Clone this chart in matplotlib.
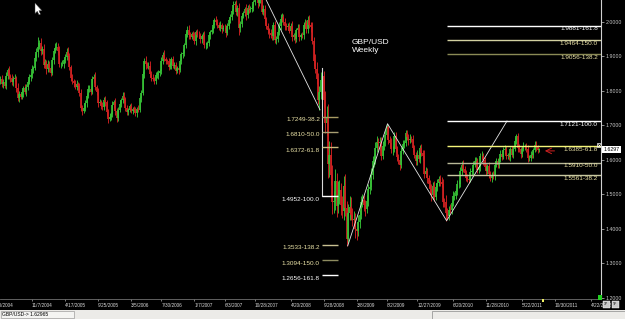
import numpy as np
import pandas as pd
import matplotlib
matplotlib.use('Agg')
import matplotlib.pyplot as plt
import matplotlib.dates as mdates
import matplotlib.transforms as mtrans
from matplotlib.patches import Rectangle, Polygon

plt.rcParams['font.family'] = ['Liberation Sans', 'DejaVu Sans']

# ---------------- data (weekly GBP/USD) ----------------
START = '2004-06-06'
first_open = 1.828
closes = [
    1.834, 1.820, 1.826, 1.815, 1.844, 1.860, 1.842, 1.838, 1.825, 1.835,
    1.838, 1.808, 1.778, 1.790, 1.783, 1.795, 1.808, 1.796, 1.812, 1.826,
    1.840, 1.845, 1.862, 1.867, 1.896, 1.911, 1.928, 1.938, 1.915, 1.920,
    1.875, 1.882, 1.862, 1.876, 1.865, 1.852, 1.889, 1.916, 1.924, 1.928,
    1.916, 1.877, 1.878, 1.878, 1.888, 1.897, 1.911, 1.900, 1.868, 1.837,
    1.827, 1.822, 1.812, 1.818, 1.815, 1.793, 1.750, 1.742, 1.750, 1.765,
    1.784, 1.804, 1.806, 1.797, 1.833, 1.840, 1.810, 1.797, 1.765, 1.767,
    1.756, 1.752, 1.773, 1.766, 1.737, 1.718, 1.724, 1.733, 1.758, 1.766,
    1.740, 1.721, 1.745, 1.762, 1.772, 1.785, 1.775, 1.749, 1.739, 1.745,
    1.755, 1.742, 1.747, 1.745, 1.736, 1.748, 1.745, 1.778, 1.793, 1.847,
    1.885, 1.876, 1.872, 1.873, 1.849, 1.838, 1.834, 1.828, 1.845, 1.845,
    1.851, 1.856, 1.887, 1.904, 1.891, 1.887, 1.886, 1.869, 1.875, 1.891,
    1.873, 1.874, 1.857, 1.867, 1.859, 1.886, 1.905, 1.910, 1.932, 1.965,
    1.977, 1.962, 1.957, 1.963, 1.958, 1.945, 1.970, 1.962, 1.960, 1.949,
    1.958, 1.960, 1.932, 1.932, 1.937, 1.961, 1.970, 1.976, 1.989, 2.006,
    1.999, 1.991, 1.983, 1.989, 1.979, 1.983, 1.982, 1.968, 1.988, 2.006,
    2.013, 2.030, 2.048, 2.050, 2.029, 2.039, 1.981, 1.993, 2.017, 2.025,
    2.036, 2.018, 2.040, 2.035, 2.038, 2.041, 2.056, 2.081, 2.092, 2.055,
    2.067, 2.068, 2.029, 2.036, 2.007, 1.987, 1.975, 1.966, 1.962, 1.959,
    1.989, 1.947, 1.950, 1.969, 1.988, 2.007, 2.013, 2.000, 1.988, 1.985,
    1.988, 1.974, 1.988, 1.955, 1.960, 1.949, 1.975, 1.983, 1.956, 1.961,
    1.960, 1.991, 1.995, 1.978, 2.005, 1.990, 1.984, 1.944, 1.887, 1.862,
    1.835, 1.772, 1.796, 1.830, 1.842, 1.774, 1.707, 1.725, 1.588, 1.615,
    1.556, 1.478, 1.480, 1.537, 1.465, 1.498, 1.512, 1.469, 1.451, 1.523,
    1.461, 1.370, 1.446, 1.464, 1.440, 1.425, 1.427, 1.398, 1.393, 1.418,
    1.440, 1.478, 1.482, 1.470, 1.458, 1.480, 1.514, 1.521, 1.557, 1.595,
    1.600, 1.635, 1.652, 1.647, 1.650, 1.612, 1.641, 1.650, 1.672, 1.696,
    1.658, 1.649, 1.630, 1.632, 1.668, 1.630, 1.608, 1.598, 1.584, 1.626,
    1.645, 1.648, 1.676, 1.667, 1.657, 1.661, 1.660, 1.633, 1.614, 1.596,
    1.614, 1.602, 1.633, 1.620, 1.612, 1.558, 1.567, 1.546, 1.529, 1.514,
    1.497, 1.524, 1.491, 1.522, 1.533, 1.544, 1.535, 1.530, 1.478, 1.477,
    1.445, 1.437, 1.455, 1.454, 1.474, 1.494, 1.494, 1.508, 1.529, 1.530,
    1.568, 1.586, 1.574, 1.561, 1.547, 1.545, 1.542, 1.564, 1.566, 1.586,
    1.596, 1.596, 1.570, 1.579, 1.610, 1.610, 1.598, 1.578, 1.566, 1.581,
    1.558, 1.546, 1.557, 1.553, 1.586, 1.595, 1.585, 1.601, 1.617, 1.609,
    1.627, 1.632, 1.612, 1.613, 1.607, 1.632, 1.615, 1.631, 1.655, 1.668,
    1.635, 1.630, 1.616, 1.632, 1.639, 1.640, 1.632, 1.605, 1.605, 1.614,
    1.613, 1.628, 1.644, 1.636, 1.627, 1.6297,
]
# wick lengths above / below the candle body, in pips
upper_wick = [
    90, 120, 80, 150, 110, 70, 130, 60, 100, 80,
    110, 60, 140, 90, 70, 100, 50, 120, 80, 60,
    90, 70, 120, 60, 100, 130, 270, 80, 140, 90,
    150, 110, 70, 120, 90, 60, 100, 80, 130, 120,
    90, 140, 60, 110, 70, 90, 120, 150, 80, 60,
    100, 70, 90, 130, 80, 60, 110, 90, 140, 70,
    80, 120, 100, 60, 90, 80, 140, 70, 110, 90,
    60, 100, 80, 130, 70, 90, 100, 60, 120, 80,
    140, 90, 70, 100, 60, 110, 120, 80, 90, 60,
    70, 100, 60, 90, 80, 60, 110, 70, 90, 100,
    110, 150, 80, 90, 120, 70, 100, 60, 80, 110,
    90, 60, 100, 70, 130, 80, 60, 100, 90, 70,
    110, 80, 90, 60, 120, 70, 80, 100, 60, 90,
    110, 130, 80, 70, 100, 120, 60, 90, 110, 80,
    70, 110, 130, 80, 60, 90, 70, 100, 80, 60,
    110, 80, 90, 120, 60, 80, 100, 70, 90, 60,
    80, 70, 110, 90, 120, 100, 160, 80, 90, 70,
    60, 140, 80, 100, 70, 90, 80, 120, 241, 100,
    120, 90, 150, 110, 130, 80, 100, 70, 120, 90,
    110, 140, 80, 70, 100, 150, 120, 90, 110, 80,
    70, 120, 90, 130, 80, 100, 60, 110, 90, 70,
    100, 80, 120, 90, 110, 130, 90, 150, 120, 180,
    200, 150, 180, 250, 247, 150, 250, 300, 350, 400,
    350, 300, 280, 350, 250, 400, 300, 200, 250, 300,
    350, 200, 250, 300, 280, 200, 250, 180, 200, 220,
    150, 180, 200, 150, 120, 170, 150, 200, 180, 150,
    200, 150, 180, 120, 150, 160, 140, 110, 130, 83,
    40, 110, 150, 80, 120, 130, 100, 90, 140, 110,
    120, 90, 110, 100, 80, 130, 90, 120, 100, 80,
    130, 110, 90, 120, 80, 150, 110, 90, 100, 120,
    150, 120, 130, 100, 110, 90, 120, 150, 130, 100,
    200, 150, 120, 180, 100, 140, 110, 90, 130, 120,
    110, 100, 130, 90, 80, 110, 70, 120, 90, 100,
    130, 110, 90, 120, 100, 140, 80, 90, 110, 70,
    120, 90, 80, 100, 70, 110, 90, 80, 120, 100,
    90, 110, 80, 70, 100, 60, 90, 80, 110, 78,
    80, 100, 70, 90, 110, 60, 80, 100, 90, 120,
    80, 70, 100, 90, 60, 50,
]
lower_wick = [
    100, 80, 130, 60, 90, 110, 70, 120, 80, 100,
    70, 130, 90, 110, 60, 80, 120, 70, 100, 90,
    60, 110, 80, 100, 70, 90, 120, 60, 110, 80,
    100, 70, 140, 80, 110, 90, 60, 120, 80, 70,
    120, 80, 100, 60, 110, 70, 90, 120, 80, 100,
    70, 110, 60, 90, 120, 80, 100, 130, 70, 90,
    110, 60, 90, 100, 70, 120, 80, 90, 110, 60,
    100, 80, 70, 110, 90, 130, 60, 100, 80, 70,
    90, 120, 80, 60, 100, 70, 110, 80, 90, 100,
    80, 70, 100, 60, 90, 110, 70, 80, 100, 60,
    90, 120, 70, 80, 100, 110, 60, 90, 80, 70,
    100, 80, 70, 110, 60, 90, 100, 80, 70, 110,
    80, 90, 100, 70, 110, 60, 80, 90, 100, 70,
    90, 110, 70, 80, 100, 90, 120, 60, 80, 100,
    110, 80, 90, 120, 70, 80, 100, 60, 90, 70,
    80, 100, 70, 90, 110, 60, 80, 120, 70, 90,
    100, 80, 70, 110, 90, 120, 200, 100, 80, 70,
    90, 120, 80, 100, 70, 110, 90, 80, 100, 140,
    90, 120, 80, 110, 130, 90, 100, 120, 80, 110,
    130, 100, 120, 80, 90, 110, 70, 100, 120, 90,
    100, 80, 110, 120, 90, 100, 80, 70, 110, 90,
    80, 100, 90, 120, 110, 90, 130, 100, 150, 120,
    150, 120, 275, 200, 180, 200, 300, 350, 400, 380,
    300, 350, 320, 250, 300, 200, 250, 300, 200, 250,
    250, 197, 120, 200, 150, 180, 200, 250, 270, 150,
    160, 120, 150, 180, 200, 120, 150, 130, 100, 120,
    150, 130, 120, 200, 180, 140, 100, 120, 90, 110,
    130, 120, 100, 150, 90, 110, 120, 100, 130, 80,
    100, 120, 90, 110, 130, 80, 100, 120, 90, 110,
    100, 80, 110, 90, 120, 100, 90, 130, 110, 100,
    180, 100, 120, 90, 130, 80, 110, 100, 150, 130,
    220, 100, 130, 90, 110, 80, 120, 90, 100, 110,
    90, 110, 100, 120, 80, 90, 110, 80, 100, 90,
    80, 120, 90, 100, 110, 80, 120, 90, 100, 80,
    110, 90, 100, 80, 120, 70, 90, 100, 80, 110,
    80, 100, 90, 110, 70, 100, 80, 90, 70, 100,
    120, 90, 100, 80, 70, 110, 90, 120, 80, 100,
    90, 80, 70, 100, 80, 60,
]

price_ticks = [1.2, 1.3, 1.4, 1.5, 1.6, 1.7, 1.8, 1.9, 2.0]
date_ticks = ['2004-11-07', '2005-04-17', '2005-09-25', '2006-03-05', '2006-07-30',
              '2007-01-07', '2007-06-03', '2007-10-28', '2008-04-20', '2008-09-28',
              '2009-03-08', '2009-08-02', '2009-12-27', '2010-06-20', '2010-11-28',
              '2011-05-22', '2011-10-30', '2012-04-22']
date_labels = ['11/7/2004', '4/17/2005', '9/25/2005', '3/5/2006', '7/30/2006',
               '1/7/2007', '6/3/2007', '10/28/2007', '4/20/2008', '9/28/2008',
               '3/8/2009', '8/2/2009', '12/27/2009', '6/20/2010', '11/28/2010',
               '5/22/2011', '10/30/2011', '4/22/2012']
first_label_date, first_label = '2004-04-30', '4/30/2004'
view_dates = ['2004-06-04', '2012-06-10']
view_prices = [1.1962, 2.0629]

# swing points and Fibonacci projections
swing1_dates = ['2007-11-09', '2008-09-10']
swing1_prices = [2.1161, 1.7445]
proj1_date = '2008-09-22'
proj1_prices = [1.8668, 1.4952]
fib1_end = '2008-12-08'
fib1_levels = [1.7249, 1.6810, 1.6372, 1.4952, 1.3533, 1.3094, 1.2656]
fib1_pcts = ['38.2', '50.0', '61.8', '100.0', '138.2', '150.0', '161.8']
fib1_colors = ['#a89a62', '#a89e72', '#c9ba7c', '#ffffff', '#c8c092', '#8e8c60', '#ffffff']

swing2_dates = ['2009-01-23', '2009-08-05', '2010-05-20', '2011-03-10']
swing2_prices = [1.3503, 1.7043, 1.4230, 1.7121]
fib2_levels = [1.9881, 1.9464, 1.9056, 1.7121, 1.6385, 1.5910, 1.5561]
fib2_pcts = ['161.8', '150.0', '138.2', '100.0', '61.8', '50.0', '38.2']
fib2_colors = ['#ffffff', '#d2d0a0', '#8a8a55', '#ffffff', '#f5f57a', '#b8b898', '#c8c8a0']

symbol, timeframe = 'GBP/USD', 'Weekly'
last_price = 1.62965

# ---------------- figure ----------------
W, H = 625, 319
fig = plt.figure(figsize=(W / 100, H / 100), dpi=100, facecolor='black')
ax = fig.add_axes([0, 20 / H, 601 / W, 299 / H])
ax.set_facecolor('black')


def dn(s):
    return mdates.date2num(pd.Timestamp(s).to_pydatetime())


n = len(closes)
x = mdates.date2num(pd.date_range(START, periods=n, freq='7D').to_pydatetime())
c = np.array(closes)
o = np.r_[first_open, c[:-1]]
hi = np.maximum(o, c) + np.array(upper_wick[:n]) / 1e4
lo = np.minimum(o, c) - np.array(lower_wick[:n]) / 1e4
GREEN, RED = '#36c036', '#d02222'
cols = np.where(c >= o, GREEN, RED)
ax.vlines(x, lo, hi, colors=cols, lw=0.65)
ax.vlines(x, np.minimum(o, c), np.maximum(o, c), colors=cols, lw=1.25)

xl = (dn(view_dates[0]), dn(view_dates[1]))
ax.set_xlim(*xl)
ax.set_ylim(*view_prices)

# swing lines
LINE = '#e6e6e6'
ax.plot([dn(d) for d in swing1_dates], swing1_prices, color=LINE, lw=0.6)
ax.plot([dn(proj1_date)] * 2, proj1_prices, color='#d8d8d8', lw=0.8)
ax.plot([dn(d) for d in swing2_dates], swing2_prices, color=LINE, lw=0.6)

# fib levels left
for lev, pct, col in zip(fib1_levels, fib1_pcts, fib1_colors):
    ax.hlines(lev, dn(proj1_date), dn(fib1_end), colors=col, lw=1.0)
    tc = '#ffffff' if col == '#ffffff' else '#ece4a8'
    ax.annotate(f'{lev:.4f}-{pct}', xy=(dn(proj1_date), lev), xytext=(-1.8, -0.5),
                textcoords='offset points', ha='right', va='top', fontsize=4.6, color=tc)

# fib levels right
for lev, pct, col in zip(fib2_levels, fib2_pcts, fib2_colors):
    ax.hlines(lev, dn(swing2_dates[2]), xl[1], colors=col, lw=1.0)
    tc = '#ffffff' if col == '#ffffff' else '#ece4a8'
    ax.annotate(f'{lev:.4f}-{pct}', xy=(xl[1], lev), xytext=(-2.2, -0.5),
                textcoords='offset points', ha='right', va='top', fontsize=4.6, color=tc)

# title
ax.text(352 / 601, 1 - 39.5 / 299, f'{symbol}\n{timeframe}', transform=ax.transAxes,
        ha='left', va='top', fontsize=6, color='white', linespacing=1.15)

# axes styling
for s in ['left', 'top']:
    ax.spines[s].set_visible(False)
ax.spines['right'].set_color('#d0d0d0')
ax.spines['right'].set_linewidth(0.8)
ax.spines['bottom'].set_color('#707070')
ax.spines['bottom'].set_linewidth(0.6)

ax.yaxis.tick_right()
ax.set_yticks(price_ticks)
ax.set_yticklabels([f'{p:.4f}' for p in price_ticks])
ax.tick_params(axis='y', colors='#c8c8c8', labelcolor='#c8c8c8', labelsize=3.8,
               length=2.0, width=0.5, pad=1.5)

ax.set_xticks([dn(d) for d in date_ticks])
ax.set_xticklabels(date_labels, ha='left')
ax.tick_params(axis='x', colors='#b0b0b0', labelcolor='#d8d8d8', labelsize=3.4,
               length=1.6, width=0.5, pad=1.2)
trx = mtrans.blended_transform_factory(ax.transData, ax.transAxes)
ax.text(dn(first_label_date), -0.012, first_label, transform=trx, ha='left', va='top',
        fontsize=3.4, color='#d8d8d8', clip_on=False)

# last price box on the price scale
tr_ay = mtrans.blended_transform_factory(ax.transAxes, ax.transData)
ax.text(1.004, 1.6297, f'{last_price:.4f}'[:6], transform=tr_ay, ha='left', va='center',
        fontsize=3.8, color='black', clip_on=False,
        bbox=dict(boxstyle='square,pad=0.25', fc='white', ec='none'))

# small red arrow pointing at the last bar
ax.annotate('', xy=(dn('2011-08-28'), 1.6255), xytext=(dn('2011-11-10'), 1.6255),
            arrowprops=dict(arrowstyle='->', color='#d02020', lw=0.7))
# x marker box at the right
ax.plot([dn('2012-06-01')], [1.6426], marker='s', ms=3, mfc='none', mec='white', mew=0.5,
        clip_on=False)
ax.plot([dn('2012-06-01')], [1.6426], marker='x', ms=2, mec='white', mew=0.4, clip_on=False)


def px_rect(x0, y0, w, h, **kw):
    fig.add_artist(Rectangle((x0 / W, 1 - (y0 + h) / H), w / W, h / H,
                             transform=fig.transFigure, **kw))


# markers on the time axis
px_rect(542.3, 299.3, 2.2, 2.4, fc='#f0f060', ec='none')
px_rect(597.5, 295, 4.5, 5, fc='#20d020', ec='none')
px_rect(602.5, 301, 7, 6.5, fc='#c8c8c8', ec='#ffffff', lw=0.3)
px_rect(611.5, 301, 7, 6.5, fc='#c8c8c8', ec='#ffffff', lw=0.3)
fig.text(606 / W, 1 - 304.2 / H, '37', fontsize=2.5, color='black', ha='center', va='center')
fig.text(615 / W, 1 - 304.2 / H, 'TF', fontsize=2.5, color='black', ha='center', va='center')

# status bar
px_rect(0, 309.5, W, 9.5, fc='#ecebe8', ec='none')
px_rect(0.5, 310.5, 73, 7.5, fc='#f4f4f2', ec='#8a8a8a', lw=0.4)
px_rect(431.5, 310.5, 193, 9, fc='none', ec='#8a8a8a', lw=0.5)
fig.text(2 / W, 1 - 314.3 / H, f'{symbol}-> {last_price:.5f}', fontsize=3.6, color='black',
         ha='left', va='center')

# mouse pointer
cur = np.array([[35, 3], [35, 13.5], [37.3, 11.3], [39, 14.8], [40.5, 14.2],
                [38.9, 10.7], [42, 10.7]])
fig.add_artist(Polygon(np.c_[cur[:, 0] / W, 1 - cur[:, 1] / H], closed=True,
                       transform=fig.transFigure, fc='white', ec='#404040', lw=0.3))

fig.savefig('out.png', dpi=100, facecolor='black')
